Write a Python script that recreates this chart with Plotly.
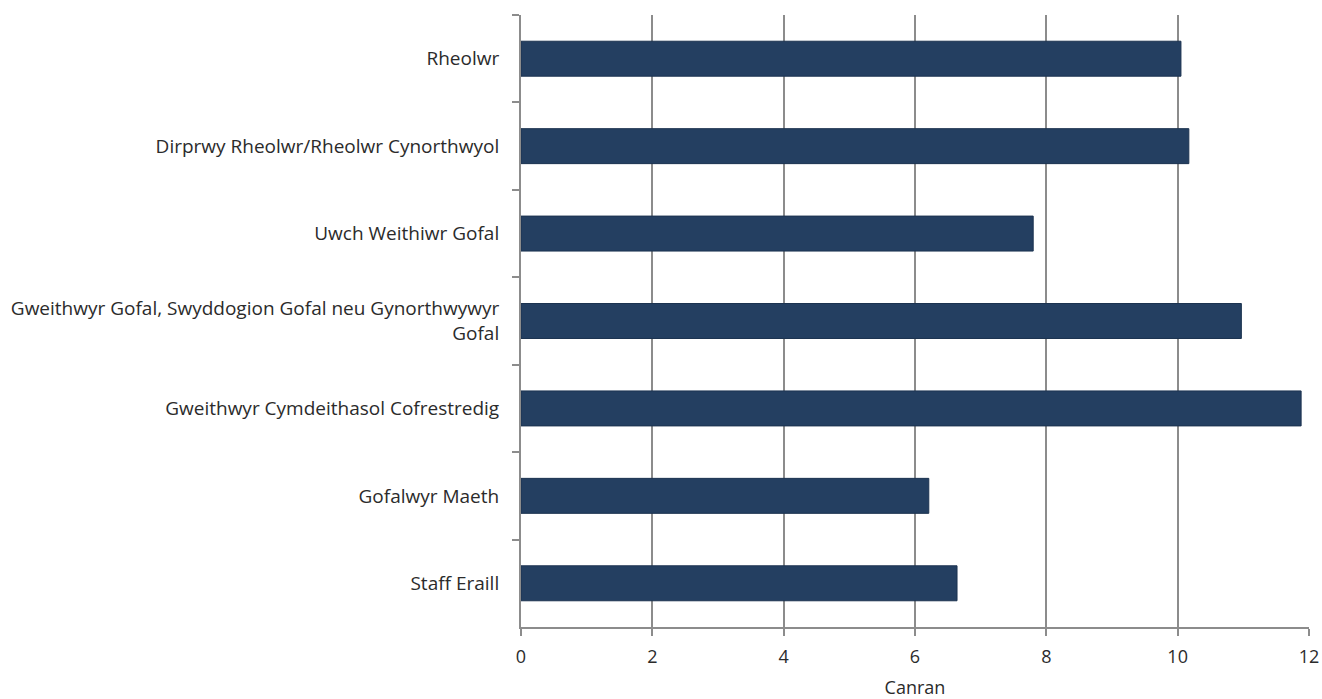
import plotly.graph_objects as go

categories = [
    "Rheolwr",
    "Dirprwy Rheolwr/Rheolwr Cynorthwyol",
    "Uwch Weithiwr Gofal",
    "Gweithwyr Gofal, Swyddogion Gofal neu Gynorthwywyr<br>Gofal",
    "Gweithwyr Cymdeithasol Cofrestredig",
    "Gofalwyr Maeth",
    "Staff Eraill",
]
values = [10.05, 10.17, 7.80, 10.97, 11.88, 6.21, 6.64]
x_ticks = [0, 2, 4, 6, 8, 10, 12]

fig = go.Figure(
    go.Bar(
        x=values,
        y=categories,
        orientation="h",
        marker=dict(color="#243f61", line=dict(color="#1c3350", width=1)),
        width=0.4,
    )
)

font_family = "Open Sans, Noto Sans, sans-serif"
text_color = "#2b2b2b"
fig.update_layout(
    width=1322,
    height=699,
    margin=dict(l=521, r=13, t=15, b=72),
    paper_bgcolor="white",
    plot_bgcolor="white",
    showlegend=False,
    font=dict(family=font_family, size=19, color=text_color),
    xaxis=dict(
        range=[0, 12],
        tickvals=x_ticks,
        automargin=False,
        showgrid=True,
        gridcolor="#8c8c8c",
        gridwidth=2,
        zeroline=False,
        showline=True,
        linecolor="#8c8c8c",
        linewidth=2,
        ticks="outside",
        ticklen=7,
        tickwidth=2,
        tickcolor="#8c8c8c",
        ticklabelstandoff=5,
        tickfont=dict(size=18, color=text_color),
        title=dict(text="Canran", font=dict(size=18, color=text_color), standoff=27),
    ),
    yaxis=dict(
        categoryorder="array",
        categoryarray=categories,
        autorange="reversed",
        automargin=False,
        showgrid=False,
        showline=True,
        linecolor="#8c8c8c",
        linewidth=2,
        ticks="outside",
        tickson="boundaries",
        ticklen=7,
        tickwidth=2,
        tickcolor="#8c8c8c",
        ticklabelstandoff=16,
        tickfont=dict(size=19, color=text_color),
    ),
)

fig.write_html(
    "out.html",
    config={"displayModeBar": False},
    post_script="document.body.style.margin='0';document.documentElement.style.overflow='hidden';",
)
